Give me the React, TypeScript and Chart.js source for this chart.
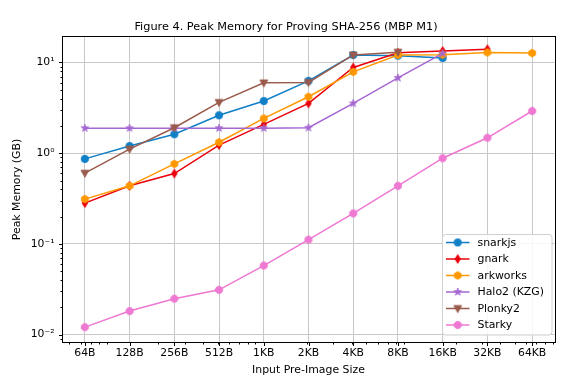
import React, { useEffect, useRef } from "react";
import { Chart, registerables } from "chart.js";
Chart.register(...registerables);

const sizes = [64, 128, 256, 512, 1024, 2048, 4096, 8192, 16384, 32768, 65536];
const sizeLabels = ["64B", "128B", "256B", "512B", "1KB", "2KB", "4KB", "8KB", "16KB", "32KB", "64KB"];
const yTickValues = [0.01, 0.1, 1, 10];
const yTickLabels = ["10⁻²", "10⁻¹", "10⁰", "10¹"];

const snarkjs = [0.866, 1.2, 1.62, 2.62, 3.76, 6.28, 12.1, 11.9, 11.2, null, null];
const gnark = [0.282, 0.437, 0.597, 1.23, 2.08, 3.54, 8.81, 12.8, 13.4, 14.0, null];
const arkworks = [0.312, 0.437, 0.762, 1.32, 2.42, 4.19, 7.88, 12.1, 12.2, 12.9, 12.7];
const halo2 = [1.89, 1.89, 1.89, 1.89, 1.89, 1.91, 3.54, 6.77, 12.6, null, null];
const plonky2 = [0.603, 1.11, 1.91, 3.63, 5.97, 6.03, 12.1, 13.0, null, null, null];
const starky = [0.0121, 0.0182, 0.0249, 0.0312, 0.0578, 0.1115, 0.217, 0.437, 0.881, 1.48, 2.92];

const seriesNames = ["snarkjs", "gnark", "arkworks", "Halo2 (KZG)", "Plonky2", "Starky"];
const seriesValues = [snarkjs, gnark, arkworks, halo2, plonky2, starky];
const seriesColors = ["#0f7fc6", "#e8000b", "#ff9800", "#a567d2", "#9a5b4c", "#ee78d2"];
const seriesMarkers = ["circle", "thin_diamond", "hexagon", "star", "triangle_down", "octagon"];

const FONT = "'DejaVu Sans', 'Liberation Sans', sans-serif";

function makeMarker(shape: string, color: string): HTMLCanvasElement {
  const c = document.createElement("canvas");
  c.width = 12;
  c.height = 12;
  const ctx = c.getContext("2d")!;
  ctx.translate(6, 6);
  ctx.fillStyle = color;
  ctx.strokeStyle = color;
  ctx.lineWidth = 0.8;
  ctx.beginPath();
  if (shape === "circle") {
    ctx.arc(0, 0, 3.7, 0, Math.PI * 2);
  } else if (shape === "thin_diamond") {
    ctx.moveTo(0, -4.4);
    ctx.lineTo(2.8, 0);
    ctx.lineTo(0, 4.4);
    ctx.lineTo(-2.8, 0);
    ctx.closePath();
  } else if (shape === "hexagon" || shape === "octagon") {
    const n = shape === "hexagon" ? 6 : 8;
    const r = 3.9;
    for (let i = 0; i < n; i++) {
      const a = (Math.PI * 2 * i) / n + (shape === "hexagon" ? Math.PI / 6 : Math.PI / 8);
      const px = r * Math.cos(a);
      const py = r * Math.sin(a);
      if (i === 0) ctx.moveTo(px, py);
      else ctx.lineTo(px, py);
    }
    ctx.closePath();
  } else if (shape === "star") {
    const ro = 4.0;
    const ri = 1.6;
    for (let i = 0; i < 10; i++) {
      const r = i % 2 === 0 ? ro : ri;
      const a = -Math.PI / 2 + (Math.PI * i) / 5;
      const px = r * Math.cos(a);
      const py = r * Math.sin(a);
      if (i === 0) ctx.moveTo(px, py);
      else ctx.lineTo(px, py);
    }
    ctx.closePath();
  } else if (shape === "triangle_down") {
    ctx.moveTo(-4.0, -3.0);
    ctx.lineTo(4.0, -3.0);
    ctx.lineTo(0, 4.2);
    ctx.closePath();
  }
  ctx.fill();
  ctx.stroke();
  return c;
}

export default function App() {
  const ref = useRef<HTMLCanvasElement | null>(null);

  useEffect(() => {
    const canvas = ref.current;
    if (!canvas) return;
    const markers = seriesMarkers.map((m, i) => makeMarker(m, seriesColors[i]));

    const datasets = seriesNames.map((name, i) => ({
      label: name,
      data: sizes
        .map((s, j) => ({ x: s, y: seriesValues[i][j] }))
        .filter((p) => p.y !== null),
      borderColor: seriesColors[i],
      backgroundColor: seriesColors[i],
      borderWidth: 1.5,
      pointStyle: markers[i],
      pointRadius: 4,
      tension: 0,
      fill: false,
      order: seriesNames.length - i,
    }));

    const xMin = sizes[0] / Math.SQRT2;
    const xMax = sizes[sizes.length - 1] * Math.SQRT2;
    const yMin = 0.0083;
    const yMax = 19.1;

    const decorPlugin = {
      id: "decor",
      afterDatasetsDraw(chart: any) {
        const ctx = chart.ctx;
        // legend
        const lx = 442.5, ly = 234.5, lw = 109.5, lh = 100.5, r = 3;
        ctx.save();
        ctx.beginPath();
        ctx.moveTo(lx + r, ly);
        ctx.lineTo(lx + lw - r, ly);
        ctx.quadraticCurveTo(lx + lw, ly, lx + lw, ly + r);
        ctx.lineTo(lx + lw, ly + lh - r);
        ctx.quadraticCurveTo(lx + lw, ly + lh, lx + lw - r, ly + lh);
        ctx.lineTo(lx + r, ly + lh);
        ctx.quadraticCurveTo(lx, ly + lh, lx, ly + lh - r);
        ctx.lineTo(lx, ly + r);
        ctx.quadraticCurveTo(lx, ly, lx + r, ly);
        ctx.closePath();
        ctx.fillStyle = "rgba(255,255,255,0.85)";
        ctx.fill();
        ctx.strokeStyle = "#d0d0d0";
        ctx.lineWidth = 1;
        ctx.stroke();
        ctx.font = `10.9px ${FONT}`;
        ctx.textBaseline = "middle";
        ctx.textAlign = "left";
        seriesNames.forEach((name, i) => {
          const yy = 242.5 + i * 16.5;
          ctx.strokeStyle = seriesColors[i];
          ctx.lineWidth = 1.5;
          ctx.beginPath();
          ctx.moveTo(446, yy);
          ctx.lineTo(469.5, yy);
          ctx.stroke();
          ctx.drawImage(markers[i], 457.7 - 6, yy - 6);
          ctx.fillStyle = "#000";
          ctx.fillText(name, 477.5, yy + 0.5);
        });
        ctx.restore();
      },
      afterDraw(chart: any) {
        const ctx = chart.ctx;
        const { left, right, top, bottom } = chart.chartArea;
        const xs = chart.scales.x;
        const ys = chart.scales.y;
        ctx.save();
        // frame
        ctx.strokeStyle = "#000";
        ctx.lineWidth = 1;
        ctx.strokeRect(Math.round(left) - 0.5, Math.round(top) - 0.5, Math.round(right - left) + 1, Math.round(bottom - top) + 1);
        // ticks
        ctx.beginPath();
        const bx = Math.round(bottom) + 0.5;
        const lyx = Math.round(left) - 0.5;
        for (let n = 1; n <= 5; n++) {
          for (let k = 2; k <= 9; k++) {
            const v = k * Math.pow(10, n);
            if (v < xMin || v > xMax) continue;
            const px = Math.round(xs.getPixelForValue(v)) + 0.5;
            ctx.moveTo(px, bx);
            ctx.lineTo(px, bx + 2);
          }
        }
        sizes.forEach((s) => {
          const px = Math.round(xs.getPixelForValue(s)) + 0.5;
          ctx.moveTo(px, bx);
          ctx.lineTo(px, bx + 3.5);
        });
        for (let n = -3; n <= 1; n++) {
          for (let k = 2; k <= 9; k++) {
            const v = k * Math.pow(10, n);
            if (v < yMin || v > yMax) continue;
            const py = Math.round(ys.getPixelForValue(v)) + 0.5;
            ctx.moveTo(lyx, py);
            ctx.lineTo(lyx - 2, py);
          }
        }
        yTickValues.forEach((v) => {
          const py = Math.round(ys.getPixelForValue(v)) + 0.5;
          ctx.moveTo(lyx, py);
          ctx.lineTo(lyx - 3.5, py);
        });
        ctx.stroke();
        // titles
        ctx.fillStyle = "#000";
        ctx.textAlign = "center";
        ctx.textBaseline = "alphabetic";
        ctx.font = `11.3px ${FONT}`;
        ctx.fillText("Figure 4. Peak Memory for Proving SHA-256 (MBP M1)", 286, 30);
        ctx.font = `10.9px ${FONT}`;
        ctx.textBaseline = "middle";
        ctx.fillText("Input Pre-Image Size", (left + right) / 2, 370);
        ctx.translate(17, (top + bottom) / 2);
        ctx.rotate(-Math.PI / 2);
        ctx.fillText("Peak Memory (GB)", 0, 0);
        ctx.restore();
      },
    };

    const chart = new Chart(canvas, {
      type: "line",
      data: { datasets: datasets as any },
      options: {
        animation: false,
        responsive: false,
        events: [],
        layout: { padding: { left: 0, right: 19.5, top: 37, bottom: 0 } },
        plugins: { legend: { display: false }, tooltip: { enabled: false }, title: { display: false } },
        scales: {
          x: {
            type: "logarithmic",
            min: xMin,
            max: xMax,
            afterBuildTicks: (scale: any) => {
              scale.ticks = sizes.map((v) => ({ value: v }));
            },
            afterFit: (scale: any) => {
              scale.height = 48;
            },
            ticks: {
              autoSkip: false,
              maxRotation: 0,
              padding: 5,
              color: "#000",
              font: { family: FONT, size: 10.8 },
              callback: (value: any) => {
                const i = sizes.indexOf(Number(value));
                return i >= 0 ? sizeLabels[i] : "";
              },
            },
            grid: { color: "#c8c8c8", lineWidth: 1, drawTicks: false },
            border: { display: false },
          },
          y: {
            type: "logarithmic",
            min: yMin,
            max: yMax,
            afterBuildTicks: (scale: any) => {
              scale.ticks = yTickValues.map((v) => ({ value: v }));
            },
            afterFit: (scale: any) => {
              scale.width = 62.5;
            },
            ticks: {
              autoSkip: false,
              padding: 8,
              color: "#000",
              font: { family: FONT, size: 10.8 },
              callback: (value: any) => {
                const i = yTickValues.findIndex((v) => Math.abs(v - Number(value)) / v < 1e-6);
                return i >= 0 ? yTickLabels[i] : "";
              },
            },
            grid: { color: "#c8c8c8", lineWidth: 1, drawTicks: false },
            border: { display: false },
          },
        },
      },
      plugins: [decorPlugin],
    });
    return () => chart.destroy();
  }, []);

  return (
    <div style={{ position: "fixed", left: 0, top: 0, width: 574, height: 390, background: "#fff" }}>
      <canvas ref={ref} width={574} height={390} style={{ width: 574, height: 390, display: "block" }} />
    </div>
  );
}
